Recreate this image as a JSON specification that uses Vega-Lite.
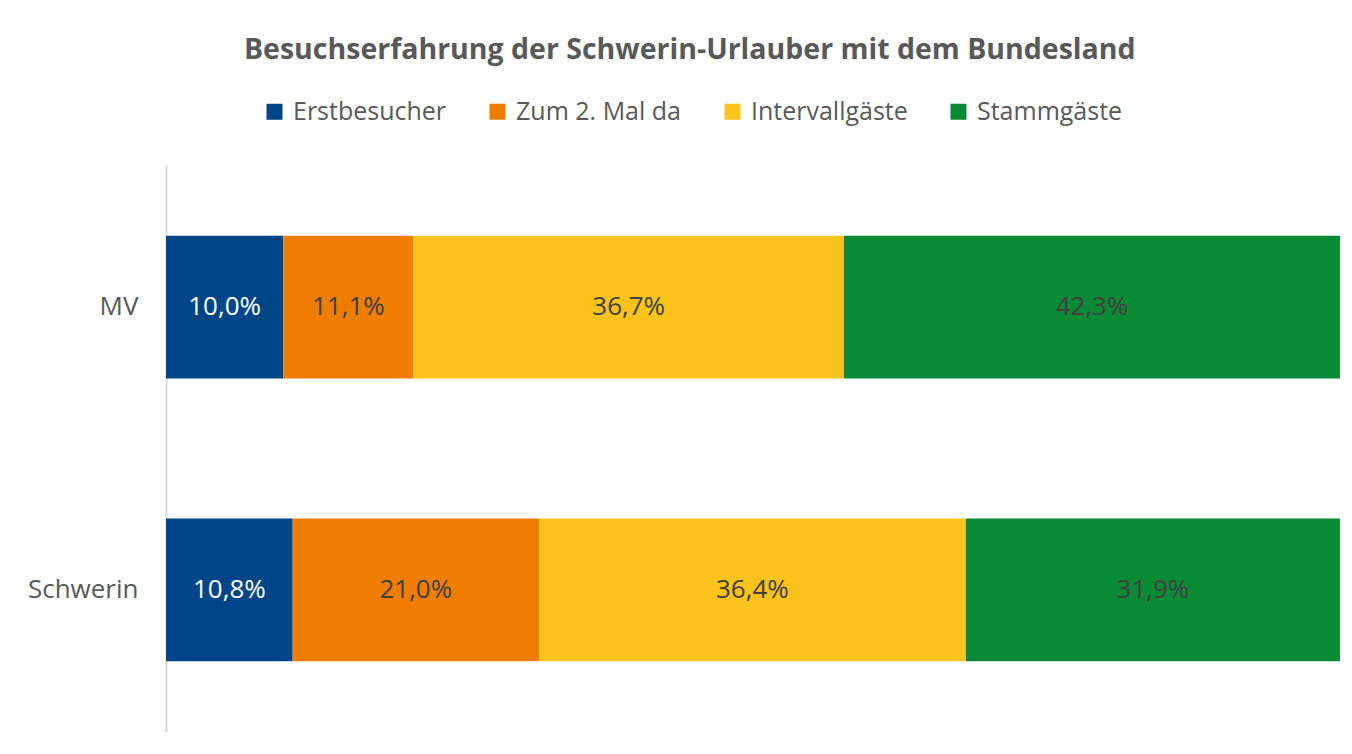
{
  "$schema": "https://vega.github.io/schema/vega-lite/v6.json",
  "width": 1174,
  "height": 567,
  "autosize": {"type": "none"},
  "padding": {"left": 166, "top": 165, "right": 12, "bottom": 22},
  "background": "white",
  "config": {
    "view": {"stroke": null},
    "locale": {"number": {"decimal": ",", "thousands": ".", "grouping": [3], "currency": ["", " €"]}},
    "font": "Open Sans"
  },
  "title": {
    "text": "Besuchserfahrung der Schwerin-Urlauber mit dem Bundesland",
    "fontSize": 28.5,
    "fontWeight": "bold",
    "color": "#595959",
    "font": "Open Sans",
    "anchor": "middle",
    "frame": "bounds",
    "offset": 35,
    "dx": 6
  },
  "data": {
    "values": [
      {"region": "MV", "cat": "Erstbesucher", "share": 0.100},
      {"region": "MV", "cat": "Zum 2. Mal da", "share": 0.111},
      {"region": "MV", "cat": "Intervallgäste", "share": 0.367},
      {"region": "MV", "cat": "Stammgäste", "share": 0.423},
      {"region": "Schwerin", "cat": "Erstbesucher", "share": 0.108},
      {"region": "Schwerin", "cat": "Zum 2. Mal da", "share": 0.210},
      {"region": "Schwerin", "cat": "Intervallgäste", "share": 0.364},
      {"region": "Schwerin", "cat": "Stammgäste", "share": 0.319}
    ]
  },
  "transform": [
    {"calculate": "indexof(['Erstbesucher','Zum 2. Mal da','Intervallgäste','Stammgäste'], datum.cat)", "as": "ord"},
    {"stack": "share", "groupby": ["region"], "sort": [{"field": "ord", "order": "ascending"}], "offset": "normalize", "as": ["x0", "x1"]},
    {"calculate": "(datum.x0 + datum.x1) / 2", "as": "mid"}
  ],
  "encoding": {
    "y": {
      "field": "region",
      "type": "nominal",
      "sort": ["MV", "Schwerin"],
      "scale": {"paddingInner": 0.495, "paddingOuter": 0.25},
      "axis": {
        "title": null,
        "ticks": false,
        "domainColor": "#d9d9d9",
        "domainWidth": 2,
        "labelFontSize": 26,
        "labelColor": "#595959",
        "labelPadding": 28,
        "labelFont": "Open Sans"
      }
    }
  },
  "layer": [
    {
      "mark": {"type": "bar"},
      "encoding": {
        "x": {"field": "x0", "type": "quantitative", "scale": {"domain": [0, 1]}, "axis": null},
        "x2": {"field": "x1"},
        "color": {
          "field": "cat",
          "type": "nominal",
          "sort": ["Erstbesucher", "Zum 2. Mal da", "Intervallgäste", "Stammgäste"],
          "scale": {
            "domain": ["Erstbesucher", "Zum 2. Mal da", "Intervallgäste", "Stammgäste"],
            "range": ["#004586", "#ef7d00", "#fbc31c", "#0a8a34"]
          },
          "legend": {
            "orient": "none",
            "legendX": 96,
            "legendY": -66,
            "direction": "horizontal",
            "title": null,
            "symbolType": "square",
            "symbolSize": 256,
            "symbolStrokeWidth": 0,
            "labelFontSize": 25,
            "labelLimit": 400,
            "labelColor": "#595959",
            "labelFont": "Open Sans",
            "labelOffset": 6,
            "columnPadding": 38
          }
        }
      }
    },
    {
      "mark": {"type": "text", "fontSize": 26, "font": "Open Sans"},
      "encoding": {
        "x": {"field": "mid", "type": "quantitative", "scale": {"domain": [0, 1]}},
        "text": {"field": "share", "type": "quantitative", "format": ".1%"},
        "color": {
          "condition": {"test": "datum.cat === 'Erstbesucher'", "value": "white"},
          "value": "#404040"
        }
      }
    }
  ]
}
